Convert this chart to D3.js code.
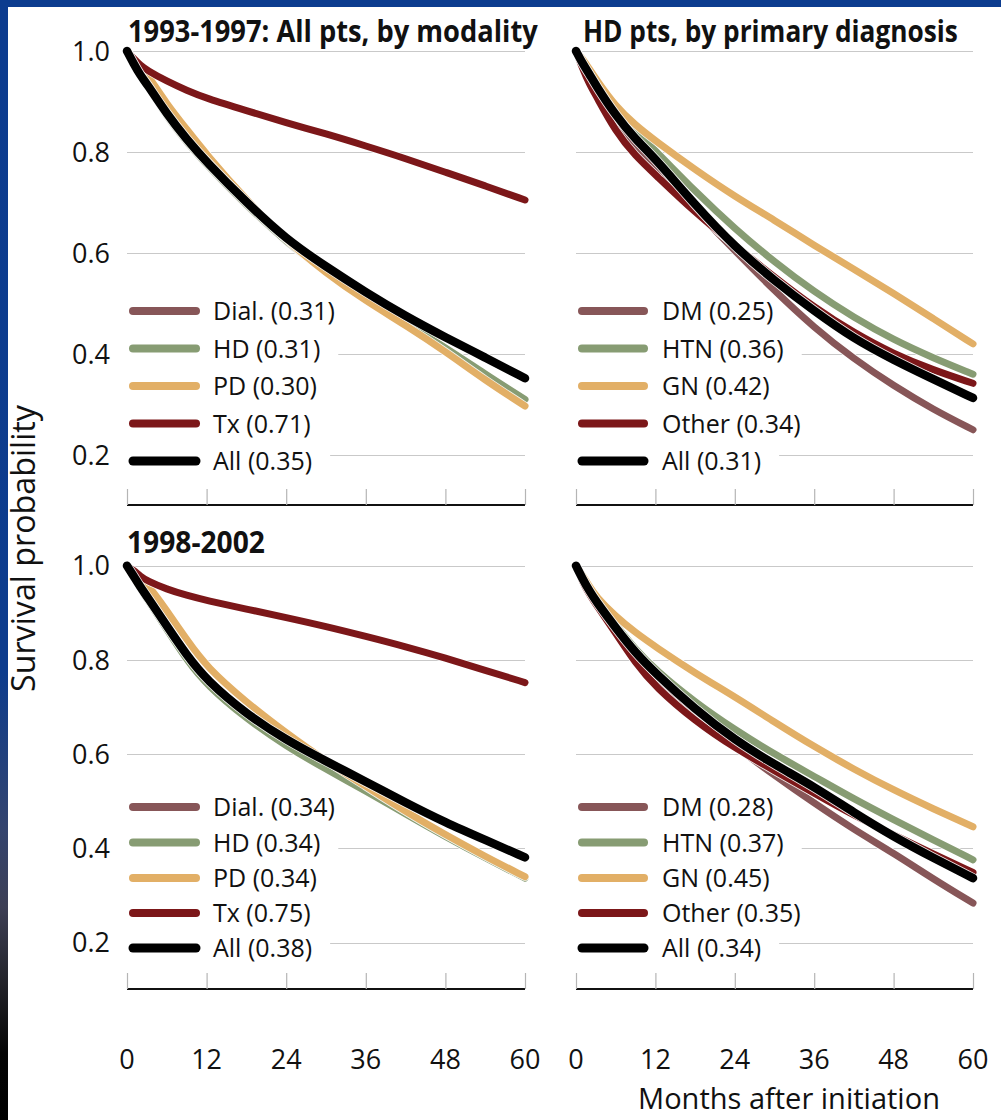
<!DOCTYPE html>
<html>
<head>
<meta charset="utf-8">
<script src="https://cdn.jsdelivr.net/npm/d3@7"></script>
<style>
  html, body { margin: 0; padding: 0; background: #fff; }
  svg { display: block; }
  text { font-family: "Open Sans", "Noto Sans", sans-serif; fill: #111; }
</style>
</head>
<body>
<div id="chart"></div>
<script>
// ---------- data ----------
const months = [0, 1, 2, 3, 6, 9, 12, 18, 24, 30, 36, 42, 48, 54, 60];
const xTicks = [0, 12, 24, 36, 48, 60];
const yTicks = [0.2, 0.4, 0.6, 0.8, 1.0];
const yTickLabels = ["0.2", "0.4", "0.6", "0.8", "1.0"];

const panelTitles = ["1993-1997: All pts, by modality", "HD pts, by primary diagnosis", "1998-2002", ""];
const modalityNames = ["Dial.", "HD", "PD", "Tx", "All"];
const diagnosisNames = ["DM", "HTN", "GN", "Other", "All"];

const seriesColors = ["#875658", "#879c73", "#e2af66", "#7c1719", "#000000"];

// 1993-1997 by modality
const m9397Dial = [1, 0.976, 0.953, 0.933, 0.869, 0.819, 0.774, 0.694, 0.621, 0.562, 0.509, 0.459, 0.412, 0.359, 0.309];
const m9397HD   = [1, 0.975, 0.952, 0.933, 0.870, 0.820, 0.775, 0.695, 0.622, 0.563, 0.510, 0.460, 0.413, 0.360, 0.310];
const m9397PD   = [1, 0.985, 0.970, 0.955, 0.895, 0.845, 0.795, 0.705, 0.625, 0.560, 0.505, 0.457, 0.405, 0.348, 0.297];
const m9397Tx   = [1, 0.985, 0.972, 0.962, 0.940, 0.922, 0.906, 0.882, 0.858, 0.836, 0.812, 0.787, 0.760, 0.733, 0.705];
const m9397All  = [1, 0.975, 0.952, 0.935, 0.875, 0.825, 0.780, 0.700, 0.627, 0.573, 0.522, 0.475, 0.433, 0.393, 0.352];

// 1993-1997 HD pts by primary diagnosis
const d9397DM    = [1, 0.975, 0.950, 0.925, 0.855, 0.808, 0.770, 0.685, 0.605, 0.525, 0.452, 0.390, 0.337, 0.290, 0.250];
const d9397HTN   = [1, 0.978, 0.958, 0.938, 0.882, 0.840, 0.803, 0.722, 0.648, 0.582, 0.523, 0.472, 0.428, 0.392, 0.360];
const d9397GN    = [1, 0.985, 0.965, 0.945, 0.890, 0.853, 0.822, 0.765, 0.712, 0.665, 0.615, 0.568, 0.520, 0.470, 0.420];
const d9397Other = [1, 0.965, 0.935, 0.912, 0.840, 0.792, 0.755, 0.680, 0.615, 0.552, 0.492, 0.442, 0.400, 0.368, 0.342];
const d9397All   = [1, 0.975, 0.955, 0.932, 0.872, 0.825, 0.787, 0.695, 0.612, 0.545, 0.485, 0.430, 0.388, 0.350, 0.313];

// 1998-2002 by modality
const m9802Dial = [1, 0.977, 0.952, 0.930, 0.866, 0.801, 0.748, 0.676, 0.618, 0.569, 0.523, 0.474, 0.426, 0.381, 0.338];
const m9802HD   = [1, 0.977, 0.952, 0.930, 0.865, 0.800, 0.747, 0.675, 0.617, 0.568, 0.522, 0.473, 0.425, 0.380, 0.337];
const m9802PD   = [1, 0.988, 0.975, 0.962, 0.905, 0.843, 0.785, 0.710, 0.645, 0.585, 0.532, 0.478, 0.429, 0.383, 0.340];
const m9802Tx   = [1, 0.990, 0.978, 0.968, 0.950, 0.937, 0.926, 0.908, 0.890, 0.871, 0.850, 0.828, 0.804, 0.778, 0.752];
const m9802All  = [1, 0.978, 0.955, 0.935, 0.872, 0.810, 0.757, 0.685, 0.630, 0.585, 0.542, 0.497, 0.455, 0.418, 0.381];

// 1998-2002 HD pts by primary diagnosis
const d9802DM    = [1, 0.972, 0.945, 0.922, 0.862, 0.810, 0.765, 0.685, 0.617, 0.555, 0.496, 0.440, 0.390, 0.335, 0.284];
const d9802HTN   = [1, 0.975, 0.952, 0.930, 0.874, 0.822, 0.779, 0.710, 0.652, 0.600, 0.553, 0.505, 0.461, 0.418, 0.376];
const d9802GN    = [1, 0.980, 0.957, 0.935, 0.892, 0.858, 0.828, 0.772, 0.722, 0.668, 0.616, 0.568, 0.524, 0.484, 0.446];
const d9802Other = [1, 0.965, 0.940, 0.918, 0.857, 0.793, 0.743, 0.670, 0.613, 0.565, 0.517, 0.470, 0.429, 0.388, 0.349];
const d9802All   = [1, 0.972, 0.947, 0.925, 0.868, 0.815, 0.772, 0.695, 0.630, 0.578, 0.531, 0.476, 0.425, 0.380, 0.337];

const legend9397Mod = ["(0.31)", "(0.31)", "(0.30)", "(0.71)", "(0.35)"];
const legend9397Dx  = ["(0.25)", "(0.36)", "(0.42)", "(0.34)", "(0.31)"];
const legend9802Mod = ["(0.34)", "(0.34)", "(0.34)", "(0.75)", "(0.38)"];
const legend9802Dx  = ["(0.28)", "(0.37)", "(0.45)", "(0.35)", "(0.34)"];

const xAxisTitle = "Months after initiation";
const yAxisTitle = "Survival probability";

// ---------- layout ----------
const W = 1001, H = 1120;
const svg = d3.select("#chart").append("svg").attr("width", W).attr("height", H);

// helper: font size that gives a text a target width
function fitSize(str, baseSize, target, weight) {
  const t = svg.append("text").attr("font-size", baseSize).attr("font-weight", weight || 400).text(str);
  const w = t.node().getComputedTextLength();
  t.remove();
  return baseSize * target / w;
}
const legendFS = fitSize("Dial. (0.31)", 24, 122);
const tickFS = Math.min(29, fitSize("0.8", 28, 38));

const defs = svg.append("defs");
const grad = defs.append("linearGradient").attr("id", "leftbar")
  .attr("x1", 0).attr("y1", 0).attr("x2", 0).attr("y2", 1);
[[0, "#0c3c8f"], [0.60, "#0d3c8d"], [0.74, "#34446e"], [0.81, "#3d3f55"], [0.88, "#222228"], [0.94, "#050505"], [1, "#000"]]
  .forEach(([o, c]) => grad.append("stop").attr("offset", o).attr("stop-color", c));

svg.append("rect").attr("x", 0).attr("y", 0).attr("width", W).attr("height", H).attr("fill", "#fff");
svg.append("rect").attr("x", 0).attr("y", 0).attr("width", W).attr("height", 7).attr("fill", "#0c3c8f");
svg.append("rect").attr("x", 0).attr("y", 0).attr("width", 8).attr("height", H).attr("fill", "url(#leftbar)");

const cols = [{x0: 127, x1: 525, legLine: [133, 196], legText: 213}, {x0: 576, x1: 973, legLine: [582, 644], legText: 662}];
const rows = [{y1: 51, y02: 455, legY: [311, 348.5, 386, 423.5, 461]},
              {y1: 565.7, y02: 942.7, legY: [807, 842.5, 878, 913, 948]}];

const panels = [
  {c: 0, r: 0, title: panelTitles[0], names: modalityNames, vals: legend9397Mod, series: [m9397Dial, m9397HD, m9397PD, m9397Tx, m9397All], titleX: 128, titleLen: 410},
  {c: 1, r: 0, title: panelTitles[1], names: diagnosisNames, vals: legend9397Dx, series: [d9397DM, d9397HTN, d9397GN, d9397Other, d9397All], titleX: 583, titleLen: 375},
  {c: 0, r: 1, title: panelTitles[2], names: modalityNames, vals: legend9802Mod, series: [m9802Dial, m9802HD, m9802PD, m9802Tx, m9802All], titleX: 127, titleLen: 138},
  {c: 1, r: 1, title: panelTitles[3], names: diagnosisNames, vals: legend9802Dx, series: [d9802DM, d9802HTN, d9802GN, d9802Other, d9802All], titleX: 0, titleLen: 0}
];

panels.forEach(p => {
  const col = cols[p.c], row = rows[p.r];
  const x = d3.scaleLinear().domain([0, 60]).range([col.x0, col.x1]);
  const perUnit = (row.y02 - row.y1) / 0.8;
  const y = d3.scaleLinear().domain([0.1, 1.0]).range([row.y1 + 0.9 * perUnit, row.y1]);
  const g = svg.append("g");

  // gridlines
  g.selectAll(".grid").data(yTicks).enter().append("line")
    .attr("x1", col.x0).attr("x2", col.x1)
    .attr("y1", d => Math.round(y(d)) + 0.5).attr("y2", d => Math.round(y(d)) + 0.5)
    .attr("stroke", "#c9c9c9").attr("stroke-width", 1.2);

  // y tick labels (left column only)
  if (p.c === 0) {
    g.selectAll(".ylab").data(yTicks).enter().append("text")
      .attr("x", 110).attr("y", d => y(d) + 0.36 * tickFS)
      .attr("text-anchor", "end").attr("font-size", tickFS)
      .text((d, i) => yTickLabels[i]);
  }

  // x axis: bottom line and inner ticks
  const axisY = Math.round(y(0.1)) - 1;
  const axis = d3.axisBottom(x).tickValues(xTicks).tickSize(0).tickFormat("");
  const ag = g.append("g").attr("transform", `translate(0,${axisY})`).call(axis);
  ag.select(".domain").attr("stroke", "#111").attr("stroke-width", 2.2).attr("d", `M${col.x0},0H${col.x1}`);
  ag.selectAll(".tick line").attr("y1", 0).attr("y2", -16).attr("stroke", "#b5b5b5").attr("stroke-width", 1.2);
  ag.selectAll(".tick text").remove();
  if (p.r === 1) {
    xTicks.forEach(t => {
      g.append("text").attr("x", x(t)).attr("y", 1069)
        .attr("text-anchor", "middle").attr("font-size", tickFS).text(t);
    });
  }

  // legend background boxes (mask gridlines)
  const legG = svg.append("g");
  const bgG = legG.append("g");
  const items = legG.append("g");
  p.names.forEach((n, i) => {
    const ly = row.legY[i];
    const t = items.append("text").attr("x", col.legText).attr("y", ly + 0.36 * legendFS)
      .attr("font-size", legendFS).text(n + " " + p.vals[i]);
    const w = t.node().getComputedTextLength();
    bgG.append("rect").attr("x", col.x0 - 2).attr("y", ly - 14)
      .attr("width", col.legText + w + 18 - (col.x0 - 2)).attr("height", 28).attr("fill", "#fff");
    items.append("line").attr("x1", col.legLine[0]).attr("x2", col.legLine[1])
      .attr("y1", ly).attr("y2", ly)
      .attr("stroke", seriesColors[i]).attr("stroke-width", i === 4 ? 9 : 8)
      .attr("stroke-linecap", "round");
  });

  // curves
  const line = d3.line().x((d, i) => x(months[i])).y(d => y(d)).curve(d3.curveBasis);
  const cg = svg.append("g");
  p.series.forEach((s, i) => {
    cg.append("path").attr("d", line(s)).attr("fill", "none")
      .attr("stroke", "#fff").attr("stroke-width", (i === 4 ? 8.5 : 7) + 1.6)
      .attr("stroke-linecap", "round").attr("stroke-linejoin", "round").attr("stroke-opacity", 0.9);
    cg.append("path").attr("d", line(s)).attr("fill", "none")
      .attr("stroke", seriesColors[i]).attr("stroke-width", i === 4 ? 8.5 : 7)
      .attr("stroke-linecap", "round").attr("stroke-linejoin", "round");
  });

  // title: bold, horizontally condensed with a scale transform
  if (p.title) {
    const ty = p.r === 0 ? 42 : 553;
    const tg = svg.append("g");
    const tt = tg.append("text").attr("x", 0).attr("y", 0)
      .attr("font-size", 31).attr("font-weight", 700).text(p.title);
    const nat = tt.node().getComputedTextLength();
    tg.attr("transform", `translate(${p.titleX},${ty}) scale(${p.titleLen / nat},1)`);
  }
});

// axis titles, sized to the reference's widths
const xtFS = fitSize(xAxisTitle, 28, 302);
svg.append("text").attr("x", 789).attr("y", 1109).attr("text-anchor", "middle")
  .attr("font-size", xtFS).text(xAxisTitle);
const ytFS = fitSize(yAxisTitle, 29, 287);
svg.append("text").attr("transform", "translate(35,548.5) rotate(-90)").attr("text-anchor", "middle")
  .attr("font-size", ytFS).text(yAxisTitle);
</script>
</body>
</html>
